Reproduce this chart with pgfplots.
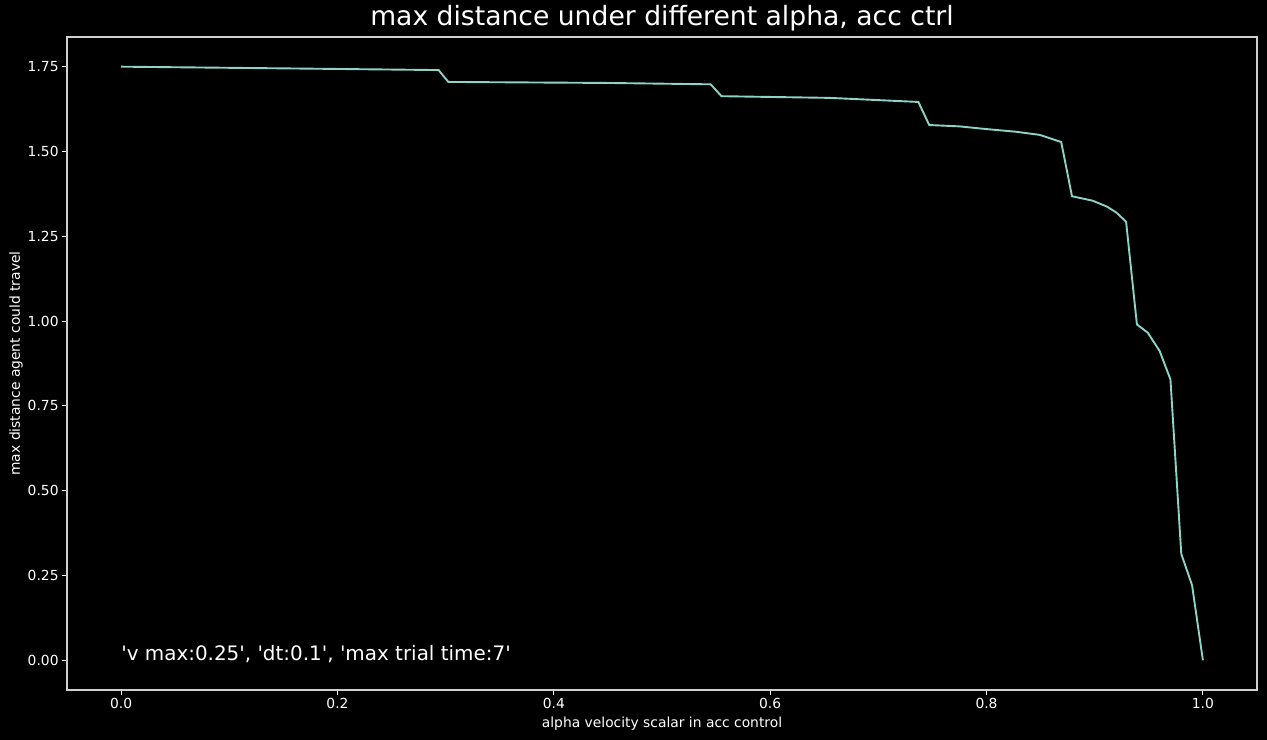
\documentclass[border=0pt]{standalone}
\usepackage{pgfplots}
\pgfplotsset{compat=1.18}
\usepackage{fontspec}
\setmainfont{DejaVu Sans}
\newfontfamily\plainfont{DejaVu Sans}
\definecolor{linecol}{HTML}{8DD3C7}
\definecolor{spine}{HTML}{D0D0D0}
\begin{document}
\begin{tikzpicture}
\fill[black] (0,0) rectangle (1267bp,740bp);
\begin{axis}[
  at={(67bp,50bp)}, anchor=south west,
  scale only axis, width=1190bp, height=653bp,
  xmin=-0.05, xmax=1.05, ymin=-0.0875, ymax=1.8375,
  axis line style={spine, line width=1.1bp},
  tick align=outside, major tick length=4.9bp,
  tick style={white, line width=1.1bp},
  xtick={0,0.2,0.4,0.6,0.8,1.0},
  ytick={0,0.25,0.5,0.75,1.0,1.25,1.5,1.75},
  xtick pos=bottom, ytick pos=left,
  /pgf/number format/assume math mode=true,
  xticklabel style={/pgf/number format/.cd, fixed, fixed zerofill, precision=1},
  yticklabel style={/pgf/number format/.cd, fixed, fixed zerofill, precision=2},
  ticklabel style={font=\fontsize{13.9}{16}\selectfont, text=white},
  title={max distance under different alpha, acc ctrl},
  title style={at={(axis description cs:0.5,1)}, anchor=base, yshift=6bp,
    font=\fontsize{26.7}{31}\selectfont, text=white},
  xlabel={alpha velocity scalar in acc control},
  ylabel={max distance agent could travel},
  xlabel style={at={(axis description cs:0.5,0)}, anchor=base, yshift=-37bp,
    font=\fontsize{13.9}{16}\selectfont, text=white},
  ylabel style={at={(axis description cs:-0.0395,0.5)}, anchor=base,
    font=\fontsize{13.9}{16}\selectfont, text=white},
]
\addplot[linecol, line width=1.9bp] coordinates {
(0.000,1.750) (0.150,1.745) (0.2935,1.740) (0.3025,1.705) (0.450,1.702)
(0.545,1.698) (0.555,1.663) (0.655,1.658) (0.737,1.646) (0.747,1.578)
(0.775,1.574) (0.800,1.566) (0.8276,1.558) (0.849,1.549) (0.869,1.528)
(0.879,1.368) (0.898,1.355) (0.911,1.338) (0.920,1.320) (0.929,1.293)
(0.939,0.990) (0.949,0.966) (0.960,0.912) (0.970,0.828) (0.980,0.314)
(0.990,0.221) (1.000,0.000)
};
\node[anchor=base west, inner sep=0pt, text=white, font=\plainfont\fontsize{20}{23}\selectfont]
  at (axis cs:0,0) {'v max:0.25', 'dt:0.1', 'max trial time:7'};
\end{axis}
\end{tikzpicture}
\end{document}
